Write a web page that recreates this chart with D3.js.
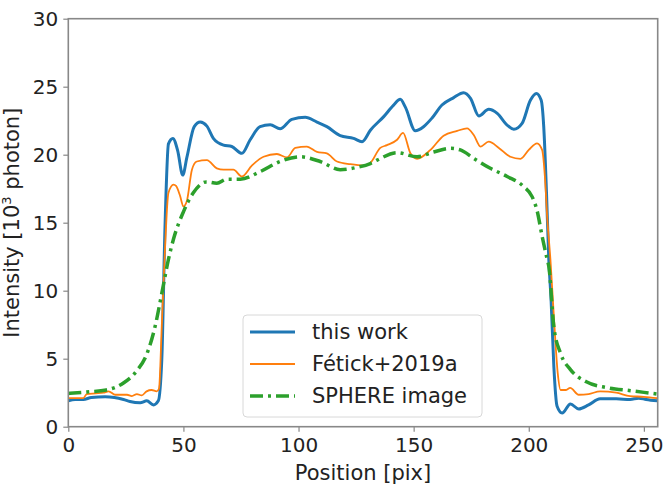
<!DOCTYPE html>
<html>
<head>
<meta charset="utf-8">
<script src="https://cdn.jsdelivr.net/npm/d3@7"></script>
<style>
  body { margin: 0; background: #fff; }
  text { font-family: "DejaVu Sans", sans-serif; fill: #222; }
</style>
</head>
<body>
<div id="chart"></div>
<script>
// this work (blue)
const workX = [0,3,6.5,10,16,20,24,26.8,31.2,34.1,37,39.1,40.6,42,43.5,45.4,47.5,49.7,51.5,54.7,57.3,60.2,63,67.4,71,75.4,79,83.3,87.7,92,97.1,102.9,108,112.3,118.1,123.9,127.6,131.2,137,141.3,144.2,146.4,150.7,154.3,158,162.3,167.4,171.7,174.7,178.3,182.6,186.3,190.6,193.5,197.1,200.7,203.3,205.4,206.5,207.7,208.7,209.7,210.9,212.3,214.5,218.1,221.7,226,231,238,244,247.7,251,255.8];
const workY = [1.9,2.0,2.0,2.15,2.2,2.15,2.0,1.85,1.76,1.9,1.6,1.9,4.9,14.7,20.8,21.2,20.3,18.5,19.8,22.06,22.4,22.1,21.2,20.7,20.6,20.1,21.1,22.06,22.2,21.9,22.6,22.75,22.4,22.06,21.4,21.2,20.96,21.8,22.8,23.65,24.07,23.5,21.76,22.06,22.7,23.65,24.2,24.56,24.15,22.85,23.34,23.04,22.18,21.87,22.3,24.0,24.5,24.0,22.06,17.2,12.3,9.3,4.4,1.5,1.0,1.67,1.3,1.6,2.05,2.05,2.0,2.1,2.0,1.9];

// Fétick+2019a (orange)
const fetickX = [0,6.5,8,12,15.3,17.5,20.4,25.5,27.6,29.8,31.9,34,36.2,38.4,39.4,40.6,41.8,43.5,45.7,46.8,48.5,50,51.5,53.7,55.8,60.2,64.5,67.4,71.7,75.4,79.7,84.8,90.6,95,98.6,103.6,108,112.3,116.7,122.5,128.3,131.2,135.5,138.4,142.8,145.4,148.6,151.5,157.3,163,168.9,173.2,176.1,179,182.6,187,192,196.4,200,203.6,205.8,207,208,209.4,210.9,212.6,213.8,216,218,221.7,226,231,238,244,250,255.8];
const fetickY = [2.1,2.1,2.4,2.45,2.5,2.6,2.35,2.35,2.25,2.4,2.3,2.6,2.7,2.6,2.8,7.4,12.3,17.2,17.8,17.7,17.0,16.2,16.6,18.9,19.5,19.6,19.0,18.9,18.9,18.4,19.2,19.85,20.05,19.8,20.5,20.6,20.2,20.1,19.5,19.3,19.2,19.4,20.5,20.7,21.1,21.6,20.1,19.7,20.35,21.4,21.75,21.94,21.45,20.6,20.96,20.5,19.85,19.7,20.35,20.84,20.35,18.4,15.4,12.3,8.1,3.9,2.7,2.7,2.85,2.35,2.4,2.6,2.5,2.25,2.2,2.1];

// SPHERE image (green)
const sphereX = [0,8,16.5,23.8,29.7,34,37.6,40.6,43.5,45.7,50,54.3,60,64.5,68.8,74.7,83.3,92,100.7,109.4,118.1,125.4,131.2,134.1,142.8,151.5,158.7,166,170.3,176.1,183.3,190.6,197.8,201.5,203.6,205.8,208,208.7,210.9,213.8,218.1,225,234,244.2,255.8];
const sphereY = [2.45,2.55,2.7,3.2,4.1,5.3,7.3,9.8,12.3,13.8,15.8,17.2,18.0,17.9,18.2,18.2,18.75,19.5,19.85,19.5,18.9,19.07,19.35,19.6,20.15,19.85,20.2,20.47,20.35,19.73,19.0,18.4,17.65,16.9,15.9,14.0,12.3,11.8,7.35,5.4,4.2,3.3,2.87,2.65,2.4];

const xTicks = [0, 50, 100, 150, 200, 250];
const yTicks = [0, 5, 10, 15, 20, 25, 30];
const seriesNames = ["this work", "Fétick+2019a", "SPHERE image"];

const width = 669, height = 484;
const margin = {top: 18.7, right: 11.3, bottom: 57.3, left: 68.3};

const svg = d3.select("#chart").append("svg")
    .attr("width", width)
    .attr("height", height);

const x = d3.scaleLinear().domain([0, 256]).range([margin.left, width - margin.right]);
const y = d3.scaleLinear().domain([0, 30]).range([height - margin.bottom, margin.top]);

const series = [
    {name: seriesNames[0], xs: workX, ys: workY, color: "#1f77b4", w: 3, dash: null},
    {name: seriesNames[1], xs: fetickX, ys: fetickY, color: "#ff7f0e", w: 1.8, dash: null},
    {name: seriesNames[2], xs: sphereX, ys: sphereY, color: "#2ca02c", w: 3.5, dash: "13,5,3,5"}
];

const line = d3.line()
    .x(d => x(d[0]))
    .y(d => y(d[1]))
    .curve(d3.curveMonotoneX);

// clip to axes box
svg.append("clipPath").attr("id", "clip")
    .append("rect")
    .attr("x", margin.left).attr("y", margin.top)
    .attr("width", width - margin.left - margin.right)
    .attr("height", height - margin.top - margin.bottom);

const plot = svg.append("g").attr("clip-path", "url(#clip)");
series.forEach(s => {
    plot.append("path")
        .datum(d3.zip(s.xs, s.ys))
        .attr("fill", "none")
        .attr("stroke", s.color)
        .attr("stroke-width", s.w)
        .attr("stroke-linejoin", "round")
        .attr("stroke-dasharray", s.dash)
        .attr("d", line);
});

// axes
const xAxis = svg.append("g")
    .attr("transform", `translate(0,${height - margin.bottom})`)
    .call(d3.axisBottom(x).tickValues(xTicks).tickSize(5).tickPadding(6).tickFormat(d3.format("d")));
const yAxis = svg.append("g")
    .attr("transform", `translate(${margin.left},0)`)
    .call(d3.axisLeft(y).tickValues(yTicks).tickSize(5).tickPadding(5).tickFormat(d3.format("d")));

[xAxis, yAxis].forEach(g => {
    g.select(".domain").remove();
    g.selectAll(".tick line").attr("stroke", "#888").attr("stroke-width", 1.2);
    g.selectAll(".tick text").attr("font-size", 20).attr("fill", "#222")
        .attr("font-family", "DejaVu Sans, sans-serif");
});

// frame
svg.append("rect")
    .attr("x", margin.left).attr("y", margin.top)
    .attr("width", width - margin.left - margin.right)
    .attr("height", height - margin.top - margin.bottom)
    .attr("fill", "none")
    .attr("stroke", "#888")
    .attr("stroke-width", 1.6);

// axis labels
svg.append("text")
    .attr("x", (margin.left + width - margin.right) / 2)
    .attr("y", 480)
    .attr("text-anchor", "middle")
    .attr("font-size", 21)
    .text("Position [pix]");

const yl = svg.append("text")
    .attr("transform", `translate(19,${(margin.top + height - margin.bottom) / 2}) rotate(-90)`)
    .attr("text-anchor", "middle")
    .attr("font-size", 21);
yl.append("tspan").text("Intensity [10");
yl.append("tspan").attr("font-size", 13).attr("dy", -8).text("3");
yl.append("tspan").attr("dy", 8).text(" photon]");

// legend
const legend = svg.append("g");
legend.append("rect")
    .attr("x", 243).attr("y", 315)
    .attr("width", 239).attr("height", 102)
    .attr("rx", 4)
    .attr("fill", "#fff").attr("fill-opacity", 0.8)
    .attr("stroke", "#d8d8d8").attr("stroke-width", 1);
series.forEach((s, i) => {
    const cy = 332 + i * 32;
    legend.append("line")
        .attr("x1", 250).attr("x2", 295)
        .attr("y1", cy).attr("y2", cy)
        .attr("stroke", s.color)
        .attr("stroke-width", s.w)
        .attr("stroke-dasharray", s.dash);
    legend.append("text")
        .attr("x", 312).attr("y", cy)
        .attr("dy", "0.35em")
        .attr("font-size", 21)
        .text(s.name);
});
</script>
</body>
</html>
